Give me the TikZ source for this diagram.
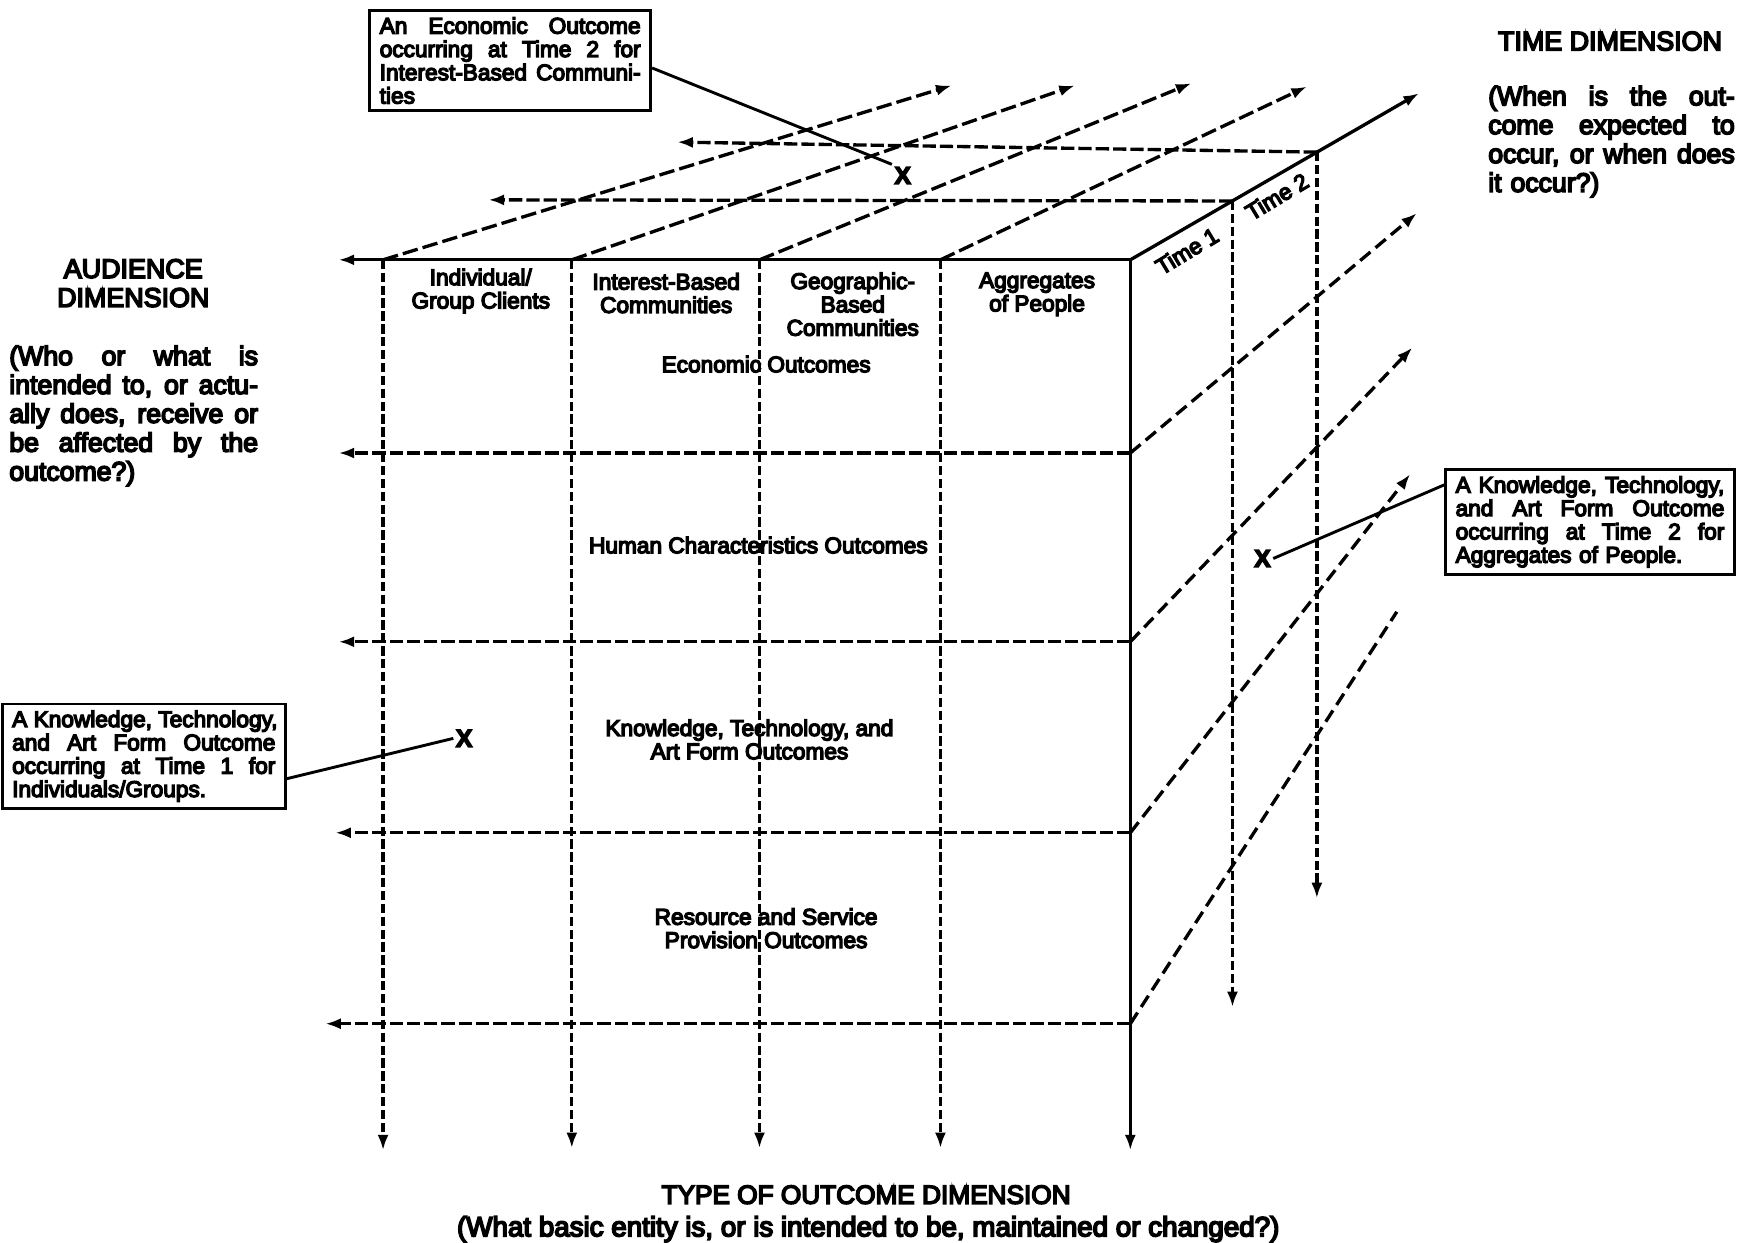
\documentclass[tikz,border=0pt]{standalone}
\usepackage{fontspec}
\setmainfont{Liberation Sans}[FakeBold=6]
\usetikzlibrary{arrows.meta,calc}
\newcommand\jl[1]{\makebox[\hsize][s]{\spaceskip=0.28em plus 4em\relax #1}}
\begin{document}
\begin{tikzpicture}[x=0.5pt,y=-0.5pt,
  ln/.style={line width=1.5pt},
  arr/.style={-{Latex[length=7pt,width=5pt]}},
  dv/.style={ln,dash pattern=on 4.2pt off 1.6pt},
  dh/.style={ln,dash pattern=on 6pt off 1.8pt},
  dd/.style={ln,dash pattern=on 7pt off 2.3pt},
  dr/.style={ln,dash pattern=on 6pt off 3pt},
  lbl/.style={font=\fontsize{10.2}{10.5}\selectfont,align=center,inner sep=0pt},
  dimhead/.style={font=\fontsize{12.1}{13}\selectfont,align=center,inner sep=0pt},
  para/.style={font=\fontsize{12}{13}\selectfont,align=left,inner sep=0pt},
  callout/.style={draw,line width=1.3pt,font=\fontsize{10.2}{10.5}\selectfont,align=left,inner xsep=4.5pt,inner ysep=3pt},
  xmark/.style={font=\fontsize{11}{11}\selectfont\bfseries,inner sep=1pt},
  leader/.style={line width=1.3pt}
]
\useasboundingbox (0,0) rectangle (1568,1119);

% front grid coordinates
\foreach \n/\x in {0/345,1/515,2/684,3/847,4/1018} {
  \foreach \m/\y in {0/234,1/408,2/578,3/750,4/922} {
    \coordinate (g\n\m) at (\x,\y);
  }
}
% bottom arrow ends
\coordinate (b0) at (345,1036);
\coordinate (b1) at (515,1034);
\coordinate (b2) at (684,1034);
\coordinate (b3) at (847,1034);
\coordinate (b4) at (1018,1036);
% left arrow ends
\coordinate (l0) at (305,234);
\coordinate (l1) at (305,408);
\coordinate (l2) at (305,578);
\coordinate (l3) at (302,750);
\coordinate (l4) at (293,922);
% time axis
\coordinate (t1) at (1110,181);
\coordinate (t2) at (1186,137);
\coordinate (tend) at (1278,84);
\coordinate (t1b) at (1110,907);
\coordinate (t2b) at (1186,809);
\coordinate (t1l) at (440,180);
\coordinate (t2l) at (610,128);
% top diagonal ends
\coordinate (d0) at (857,77);
\coordinate (d1) at (968,77);
\coordinate (d2) at (1073,75);
\coordinate (d3) at (1177,78);
% right face diagonal ends
\coordinate (r1) at (1276,192);
\coordinate (r2) at (1272,313);
\coordinate (r3) at (1270,427);
\coordinate (r4) at (1258,551);

% solid edges
\draw[ln,arr] (g40) -- (l0);
\draw[ln,arr] (g40) -- (b4);
\draw[ln,arr] (g40) -- (tend);
% front verticals
\foreach \i in {0,1,2,3} { \draw[dv,arr] (g\i0) -- (b\i); }
% front horizontals
\foreach \j in {1,2,3,4} { \draw[dh,arr] (g4\j) -- (l\j); }
% top face
\foreach \i in {0,1,2,3} { \draw[dd,arr] (g\i0) -- (d\i); }
\draw[dh,arr] (t1) -- (t1l);
\draw[dh,arr] (t2) -- (t2l);
% time verticals
\draw[dv,arr] (t1) -- (t1b);
\draw[dv,arr] (t2) -- (t2b);
% right face
\draw[dr,arr] (g41) -- (r1);
\draw[dr,arr] (g42) -- (r2);
\draw[dr,arr] (g43) -- (r3);
\draw[dr] (g44) -- (r4);

% column labels
\node[lbl] (col1) at (433,262) {Individual/\\Group Clients};
\node[lbl] (col2) at (600,264) {Interest-Based\\Communities};
\node[lbl] (col3) at (768,274) {Geographic-\\Based\\Communities};
\node[lbl] (col4) at (934,265) {Aggregates\\of People};
% row labels
\node[lbl] (row1) at (690,328) {Economic Outcomes};
\node[lbl] (row2) at (683,491) {Human Characteristics Outcomes};
\node[lbl] (row3) at (675,666) {Knowledge, Technology, and\\Art Form Outcomes};
\node[lbl] (row4) at (690,836) {Resource and Service\\Provision Outcomes};
% time labels
\node[lbl,rotate=31] (time1) at (1069,226) {Time 1};
\node[lbl,rotate=31] (time2) at (1150,177) {Time 2};

% dimension texts
\node[dimhead] (timehead) at (1450,37) {TIME DIMENSION};
\node[para,text width=111pt,anchor=north west] (timetext) at (1340,77)
  {\jl{(When is the out-}\\\jl{come expected to}\\\jl{occur, or when does}\\it occur?)};
\node[dimhead] (audhead) at (120,255) {AUDIENCE\\DIMENSION};
\node[para,text width=112pt,anchor=north west] (audtext) at (8,311)
  {\jl{(Who or what is}\\\jl{intended to, or actu-}\\\jl{ally does, receive or}\\\jl{be affected by the}\\outcome?)};
\node[dimhead,font=\fontsize{11.8}{13}\selectfont] (typehead) at (780,1076) {TYPE OF OUTCOME DIMENSION};
\node[para,font=\fontsize{12.5}{13}\selectfont] (typetext) at (782,1107) {(What basic entity is, or is intended to be, maintained or changed?)};

% callouts
\node[callout,text width=117.5pt] (box1) at (459.5,54.5)
  {\jl{An Economic Outcome}\\\jl{occurring at Time 2 for}\\\jl{Interest-Based Communi-}\\ties};
\node[callout,text width=121pt] (box2) at (1432,470)
  {\jl{A Knowledge, Technology,}\\\jl{and Art Form Outcome}\\\jl{occurring at Time 2 for}\\Aggregates of People.};
\node[callout,text width=118.5pt] (box3) at (129.5,681)
  {\jl{A Knowledge, Technology,}\\\jl{and Art Form Outcome}\\\jl{occurring at Time 1 for}\\Individuals/Groups.};

% X marks
\node[xmark] (x1) at (813,158) {X};
\node[xmark] (x2) at (1137,503) {X};
\node[xmark] (x3) at (418,665) {X};

% leaders
\draw[leader] ($(box1.north east)+(0,53)$) -- (x1.north west);
\draw[leader] (x2.east) -- ($(box2.north west)+(0,15)$);
\draw[leader] ($(box3.south east)+(0,-28)$) -- (x3.west);
\end{tikzpicture}
\end{document}
